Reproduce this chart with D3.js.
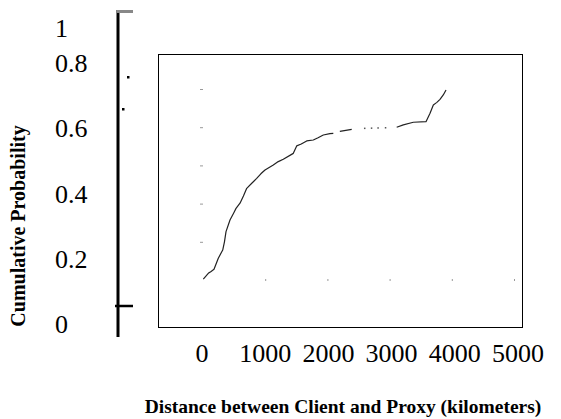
<!DOCTYPE html>
<html><head><meta charset="utf-8">
<script src="https://cdn.jsdelivr.net/npm/d3@7"></script>
<style>body{margin:0;background:#fff}svg{display:block}text{font-family:"Liberation Serif","Times New Roman",serif}</style>
</head><body><svg id="c" width="561" height="419"></svg>
<script>
// Data: CDF of client–proxy distance (km)
const distKm = [5, 85, 130, 177, 246, 317, 345, 370, 434, 500, 531, 595, 650, 703, 780, 863, 930, 997, 1130, 1210, 1291, 1452, 1506, 1580, 1667, 1773, 1850, 1934, 2040, 2095];
const cumProb = [0.005, 0.035, 0.045, 0.056, 0.114, 0.157, 0.2, 0.253, 0.314, 0.355, 0.375, 0.402, 0.44, 0.48, 0.505, 0.532, 0.556, 0.576, 0.602, 0.62, 0.632, 0.663, 0.702, 0.712, 0.728, 0.733, 0.745, 0.759, 0.766, 0.768];
const dashKm = [2200, 2391];
const dashProb = [0.778, 0.789];
const dotKm = [2600, 2710, 2815, 2935];
const dotProb = [0.794, 0.795, 0.796, 0.797];
const tailKm = [3114, 3220, 3381, 3585, 3650, 3703, 3760, 3810, 3863, 3907];
const tailProb = [0.8, 0.812, 0.826, 0.829, 0.873, 0.916, 0.93, 0.946, 0.969, 0.995];
const xTicks = [0, 1000, 2000, 3000, 4000, 5000];
const yTickLabels = ["0", "0.2", "0.4", "0.6", "0.8", "1"];
const yTickVals = [0, 0.2, 0.4, 0.6, 0.8, 1];
const innerYTicks = [0.2, 0.4, 0.6, 0.8, 1.0];
const innerXTicks = [1000, 2000, 3000, 4000, 5000];

const svg = d3.select("#c");
const x = d3.scaleLinear().domain([0, 5000]).range([203, 514]);
const y = d3.scaleLinear().domain([0, 1]).range([280, 89]);
// label placement scales (as in the original figure, labels are offset from the plot)
const xLab = d3.scaleLinear().domain([0, 5000]).range([202, 518]);
const yLab = d3.scaleLinear().domain([0, 0.8, 1]).range([333, 72, 37]);

// plot frame
svg.append("rect").attr("x", 158.5).attr("y", 54.5).attr("width", 364).attr("height", 273)
  .attr("fill", "none").attr("stroke", "#000").attr("stroke-width", 1);

// outer thick vertical axis
svg.append("line").attr("x1", 118).attr("x2", 118).attr("y1", 10).attr("y2", 337)
  .attr("stroke", "#000").attr("stroke-width", 3);
svg.append("line").attr("x1", 117).attr("x2", 133).attr("y1", 11.5).attr("y2", 11.5)
  .attr("stroke", "#888").attr("stroke-width", 3);
svg.append("line").attr("x1", 115).attr("x2", 133).attr("y1", 306).attr("y2", 306)
  .attr("stroke", "#000").attr("stroke-width", 2.5);
svg.append("rect").attr("x", 127).attr("y", 76).attr("width", 2.5).attr("height", 2.5).attr("fill", "#000");
svg.append("rect").attr("x", 122).attr("y", 108).attr("width", 2.5).attr("height", 2.5).attr("fill", "#000");

// inner faint ticks
const yAx = svg.append("g").attr("transform", "translate(203,0)")
  .call(d3.axisLeft(y).tickValues(innerYTicks).tickSize(3).tickFormat(""));
const xAx = svg.append("g").attr("transform", "translate(0,281)")
  .call(d3.axisTop(x).tickValues(innerXTicks).tickSize(2).tickFormat(""));
[yAx, xAx].forEach(g => { g.select(".domain").remove(); g.selectAll("line").attr("stroke", "#999"); });

// curve
const line = d3.line().x(d => x(d[0])).y(d => y(d[1]));
const main = distKm.map((d, i) => [d, cumProb[i]]);
const dash = dashKm.map((d, i) => [d, dashProb[i]]);
const tail = tailKm.map((d, i) => [d, tailProb[i]]);
[main, dash, tail].forEach(seg => {
  svg.append("path").attr("d", line(seg)).attr("fill", "none")
    .attr("stroke", "#222").attr("stroke-width", 1.2).attr("stroke-linejoin", "round");
});
svg.selectAll(".dot").data(dotKm.map((d, i) => [d, dotProb[i]])).enter().append("rect")
  .attr("x", d => x(d[0]) - 0.75).attr("y", d => y(d[1]) - 0.75)
  .attr("width", 1.5).attr("height", 1.5).attr("fill", "#555");

// x tick labels
svg.selectAll(".xl").data(xTicks).enter().append("text")
  .attr("x", d => xLab(d)).attr("y", 362).attr("text-anchor", "middle")
  .attr("font-size", 26).text(d => d);
// y tick labels
svg.selectAll(".yl").data(yTickVals).enter().append("text")
  .attr("x", 55).attr("y", d => yLab(d)).attr("font-size", 26)
  .text((d, i) => yTickLabels[i]);

// axis titles
svg.append("text").attr("x", 343).attr("y", 413).attr("text-anchor", "middle")
  .attr("font-weight", "bold").attr("font-size", 19.5)
  .text("Distance between Client and Proxy (kilometers)");
svg.append("text").attr("transform", "translate(25,226) rotate(-90)").attr("text-anchor", "middle")
  .attr("font-weight", "bold").attr("font-size", 20)
  .text("Cumulative Probability");
</script></body></html>
